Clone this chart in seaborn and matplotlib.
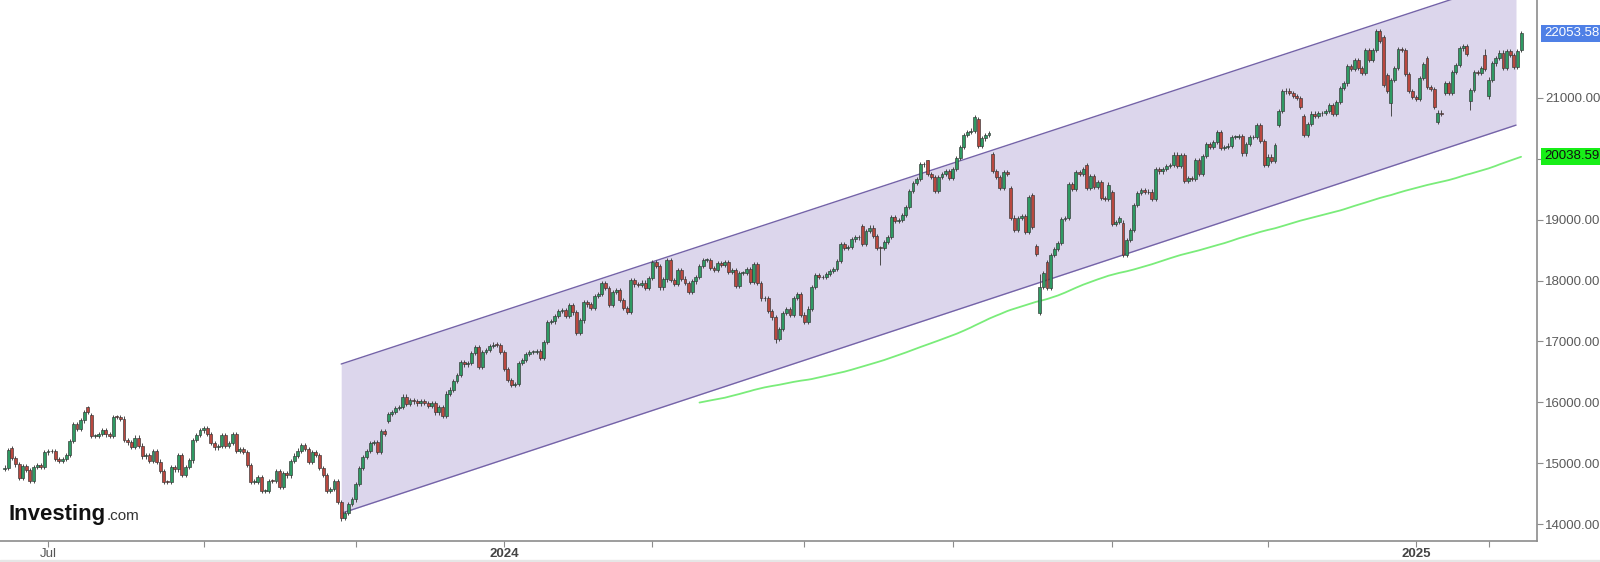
import numpy as np
import pandas as pd
import matplotlib
matplotlib.use("Agg")
import matplotlib.pyplot as plt
import seaborn as sns
from matplotlib.transforms import blended_transform_factory

sns.set_theme(style="white")
plt.rcParams['font.family'] = ['Liberation Sans', 'DejaVu Sans']

# ---------------- data ----------------
holidays = ["2023-06-19", "2023-07-04", "2023-09-04", "2023-11-23", "2023-12-25",
            "2024-01-01", "2024-01-15", "2024-02-19", "2024-03-29", "2024-05-27",
            "2024-06-19", "2024-07-04", "2024-09-02", "2024-11-28", "2024-12-25",
            "2025-01-01", "2025-01-09", "2025-01-20"]
first_day, last_day = "2023-06-14", "2025-02-14"

c_2023_06 = [14930, 15220, 15083, 14982, 14768, 14950, 14891, 14705, 14941, 14974, 14945, 15179]
c_2023_07 = [15198, 15203, 15074, 15034, 15069, 15139, 15372, 15640, 15566, 15705, 15841, 15840,
             15450, 15452, 15478, 15550, 15475, 15444, 15758, 15757]
c_2023_08 = [15735, 15379, 15343, 15274, 15424, 15293, 15114, 15134, 15035, 15205, 15029, 14873,
             14695, 14694, 14940, 14901, 15140, 14804, 14942, 15048, 15385, 15463, 15540]
c_2023_09 = [15580, 15486, 15336, 15261, 15290, 15462, 15280, 15337, 15474, 15202, 15229, 15191,
             14979, 14694, 14701, 14769, 14546, 14550, 14716, 14715]
c_2023_10 = [14872, 14611, 14839, 14803, 15043, 15128, 15210, 15300, 15233, 15022, 15184, 15133,
             14920, 14810, 14542, 14575, 14714, 14371, 14109, 14180, 14336, 14409]
c_2023_11 = [14665, 14925, 15099, 15197, 15337, 15343, 15189, 15530, 15482, 15812, 15838, 15913,
             15919, 16095, 15974, 16037, 16017, 15983, 16021, 15987, 15948]
c_2023_12 = [15995, 15835, 15927, 15777, 16145, 16210, 16355, 16453, 16656, 16623, 16648, 16816,
             16907, 16584, 16830, 16855, 16931, 16950, 16947, 16826]
c_2024_01 = [16544, 16368, 16282, 16306, 16652, 16692, 16792, 16832, 16833, 16845, 16735, 16997,
             17314, 17329, 17421, 17500, 17516, 17421, 17597, 17476, 17137]
c_2024_02 = [17345, 17642, 17608, 17553, 17741, 17783, 17963, 17882, 17600, 17806, 17846, 17686,
             17549, 17478, 18004, 17937, 17923, 17967, 17874, 18043]
c_2024_03 = [18302, 18236, 17886, 18017, 18339, 18009, 17942, 18167, 18032, 17961, 17808, 17985,
             18061, 18240, 18339, 18339, 18210, 18174, 18280, 18255]
c_2024_04 = [18300, 18137, 18173, 17918, 18123, 18125, 18185, 17976, 18266, 17963, 17707, 17707,
             17494, 17394, 17037, 17210, 17471, 17527, 17430, 17718, 17783, 17441]
c_2024_05 = [17321, 17541, 17891, 18087, 18055, 18054, 18113, 18161, 18192, 18322, 18593, 18530,
             18546, 18674, 18717, 18708, 18598, 18809, 18869, 18731, 18538, 18537]
c_2024_06 = [18630, 18714, 19035, 18979, 18996, 19074, 19210, 19465, 19601, 19660, 19904, 19908,
             19752, 19700, 19473, 19701, 19750, 19789, 19683]
c_2024_07 = [19830, 20012, 20187, 20392, 20439, 20461, 20676, 20211, 20332, 20386, 20414, 19797,
             19702, 19523, 19776, 19747, 19033, 18830, 19023, 19059, 18796, 19363]
c_2024_08 = [18873, 18440, 17895, 18118, 17874, 18413, 18523, 18610, 19009, 19027, 19584, 19508,
             19776, 19742, 19831, 19516, 19721, 19535, 19619, 19350, 19335, 19575]
c_2024_09 = [18922, 18965, 19031, 18421, 18667, 18831, 19238, 19439, 19488, 19447, 19459, 19333,
             19830, 19791, 19832, 19879, 19895, 20067, 19883, 20060]
c_2024_10 = [19632, 19681, 19670, 19974, 19750, 20049, 20242, 20196, 20272, 20439, 20173, 20187,
             20215, 20352, 20361, 20366, 20086, 20243, 20352, 20351, 20551, 20291, 19890]
c_2024_11 = [20033, 19966, 20223, 20786, 21102, 21118, 21072, 21029, 20992, 20854, 20394, 20563,
             20740, 20705, 20741, 20744, 20776, 20881, 20739, 20930]
c_2024_12 = [21165, 21234, 21521, 21476, 21622, 21485, 21406, 21780, 21622, 21780, 22097, 21938,
             21209, 21110, 21289, 21491, 21798, 21779, 21394, 21110, 21012]
c_2025_01 = [20975, 21326, 21551, 21171, 21148, 20847, 20757, 20734, 21238, 21080, 21427, 21542,
             21809, 21853, 21717, 21128, 21414, 21411, 21484, 21478]
c_2025_02 = [21297, 21562, 21650, 21741, 21491, 21759, 21697, 21500, 21760, 22053.58]

open_gaps = {"2023-06-16": 15250, "2023-07-19": 15920, "2023-07-20": 15790, "2023-11-14": 15690,
             "2024-05-23": 18900, "2024-06-20": 19970, "2024-07-11": 20650, "2024-07-17": 20080,
             "2024-07-24": 19520, "2024-08-01": 19400, "2024-08-02": 18560, "2024-08-05": 17470,
             "2024-08-07": 18300, "2024-08-22": 19900, "2024-09-03": 19450, "2024-09-06": 18950,
             "2024-11-06": 20560, "2024-11-15": 20700, "2024-12-18": 21990, "2024-12-19": 21370,
             "2024-12-20": 20920, "2025-01-07": 21650, "2025-01-13": 20600, "2025-01-15": 21080,
             "2025-01-27": 20950, "2025-01-31": 21700, "2025-02-03": 21020, "2025-02-14": 21790}
high_marks = {"2023-07-19": 15935, "2024-08-05": 18100, "2025-01-31": 21800, "2024-06-20": 19985}
low_marks = {"2023-10-26": 14060, "2024-05-31": 18260, "2024-08-05": 17430, "2024-12-20": 20700,
             "2025-01-27": 20800, "2024-04-19": 16970}

tick_dates = ["2023-07-03", "2023-09-01", "2023-11-01", "2024-01-02", "2024-03-01", "2024-05-01",
              "2024-07-01", "2024-09-03", "2024-11-01", "2025-01-02", "2025-02-03"]
tick_labels = ["Jul", "", "", "2024", "", "", "", "", "", "2025", ""]

channel_start, channel_end = "2023-10-26", "2025-02-12"
channel_upper = [16630, 22960]
channel_lower = [14180, 20550]

ma_window = 200
last_price = 22053.58
ma_value = 20038.59
y_ticks = [14000, 15000, 16000, 17000, 18000, 19000, 20000, 21000]
y_tick_text = ["14000.00", "15000.00", "16000.00", "17000.00", "18000.00", "19000.00", "", "21000.00"]

# ---------------- build frame ----------------
closes = (c_2023_06 + c_2023_07 + c_2023_08 + c_2023_09 + c_2023_10 + c_2023_11 + c_2023_12 +
          c_2024_01 + c_2024_02 + c_2024_03 + c_2024_04 + c_2024_05 + c_2024_06 + c_2024_07 +
          c_2024_08 + c_2024_09 + c_2024_10 + c_2024_11 + c_2024_12 + c_2025_01 + c_2025_02)
cbd = pd.offsets.CustomBusinessDay(holidays=holidays)
dates = pd.date_range(first_day, last_day, freq=cbd)
n = min(len(dates), len(closes))
dates = dates[:n]
df = pd.DataFrame({"date": dates, "close": np.array(closes[:n], dtype=float)})
df["open"] = df["close"].shift(1).fillna(df["close"].iloc[0] - 20)
for d, v in open_gaps.items():
    df.loc[df["date"] == pd.Timestamp(d), "open"] = v
wick = 35
df["high"] = df[["open", "close"]].max(axis=1) + wick
df["low"] = df[["open", "close"]].min(axis=1) - wick
for d, v in high_marks.items():
    df.loc[df["date"] == pd.Timestamp(d), "high"] = v
for d, v in low_marks.items():
    df.loc[df["date"] == pd.Timestamp(d), "low"] = v
df["idx"] = np.arange(n)
df["ma"] = df["close"].rolling(ma_window, min_periods=193).mean()

def pos(d):
    return int(np.searchsorted(df["date"].values, np.datetime64(pd.Timestamp(d))))

# ---------------- figure ----------------
W, H = 1600, 562
fig = plt.figure(figsize=(W / 100, H / 100), dpi=100)
ax = fig.add_axes([0, 21.3 / H, 1537 / W, 1 - 21.3 / H])
ax.set_facecolor("white")

# channel
cx = [pos(channel_start), pos(channel_end) + 0.6]
ax.fill_between(cx, channel_lower, channel_upper, color="#dcd6ec", lw=0, zorder=1)
ax.plot(cx, channel_upper, color="#7463a8", lw=1.0, zorder=2)
ax.plot(cx, channel_lower, color="#7463a8", lw=1.0, zorder=2)

# moving average
sns.lineplot(data=df.dropna(subset=["ma"]), x="idx", y="ma", ax=ax, color="#7aec7a",
             lw=1.3, zorder=3, legend=False)

# candles
up = df["close"] >= df["open"]
colors = np.where(up, "#2f9a63", "#b9483f")
ax.vlines(df["idx"], df["low"], df["high"], color="#4a4a4a", lw=0.7, zorder=4)
body = (df["close"] - df["open"]).abs().clip(lower=12)
bottom = df[["open", "close"]].min(axis=1)
ax.bar(df["idx"], body, bottom=bottom, width=0.8, color=colors, edgecolor="#333333",
       linewidth=0.45, zorder=5)

# axes styling
ax.set_xlim(-1.27, 423.4)
ax.set_ylim(13731, 22603)
for s in ["left", "top"]:
    ax.spines[s].set_visible(False)
for s in ["right", "bottom"]:
    ax.spines[s].set_color("#8c8c8c")
    ax.spines[s].set_linewidth(1.2)
ax.yaxis.tick_right()
ax.set_yticks(y_ticks)
ax.set_yticklabels(y_tick_text)
ax.tick_params(axis="y", which="both", right=True, left=False, length=4, width=0.8,
               color="#8c8c8c", labelsize=9.5, labelcolor="#5a5a5a", pad=2)
ax.set_xticks([pos(d) for d in tick_dates])
ax.set_xticklabels(tick_labels)
ax.tick_params(axis="x", bottom=True, length=4, width=0.8, color="#8c8c8c",
               labelsize=9.5, labelcolor="#555555", pad=1)
for lab in ax.get_xticklabels():
    if lab.get_text() in ("2024", "2025"):
        lab.set_fontweight("bold")
        lab.set_color("#444444")
ax.set_xlabel("")
ax.set_ylabel("")
ax.grid(False)

# right-side price tags
tr = blended_transform_factory(ax.transAxes, ax.transData)
ax.text(1.0045, last_price, f"{last_price:.2f}", transform=tr, ha="left", va="center",
        fontsize=9.5, color="white", clip_on=False, zorder=10,
        bbox=dict(boxstyle="square,pad=0.2", fc="#4f80e6", ec="none"))
ax.text(1.0045, ma_value, f"{ma_value:.2f}", transform=tr, ha="left", va="center",
        fontsize=9.5, color="#111111", clip_on=False, zorder=10,
        bbox=dict(boxstyle="square,pad=0.2", fc="#18ee18", ec="none"))

# logo
t1 = fig.text(8 / W, 1 - 520 / H, "Investing", fontsize=16, fontweight="bold",
              color="#111111", ha="left", va="baseline")
fig.canvas.draw()
bb = t1.get_window_extent(renderer=fig.canvas.get_renderer())
fig.text((bb.x1 + 1) / W, 1 - 520 / H, ".com", fontsize=11, color="#333333",
         ha="left", va="baseline")

# bottom strip
fig.patches.append(plt.Rectangle((0, 0), 1, 2.5 / H, transform=fig.transFigure,
                                 color="#e6e6e6", zorder=0))

fig.savefig("out.png", dpi=100, facecolor="white")
